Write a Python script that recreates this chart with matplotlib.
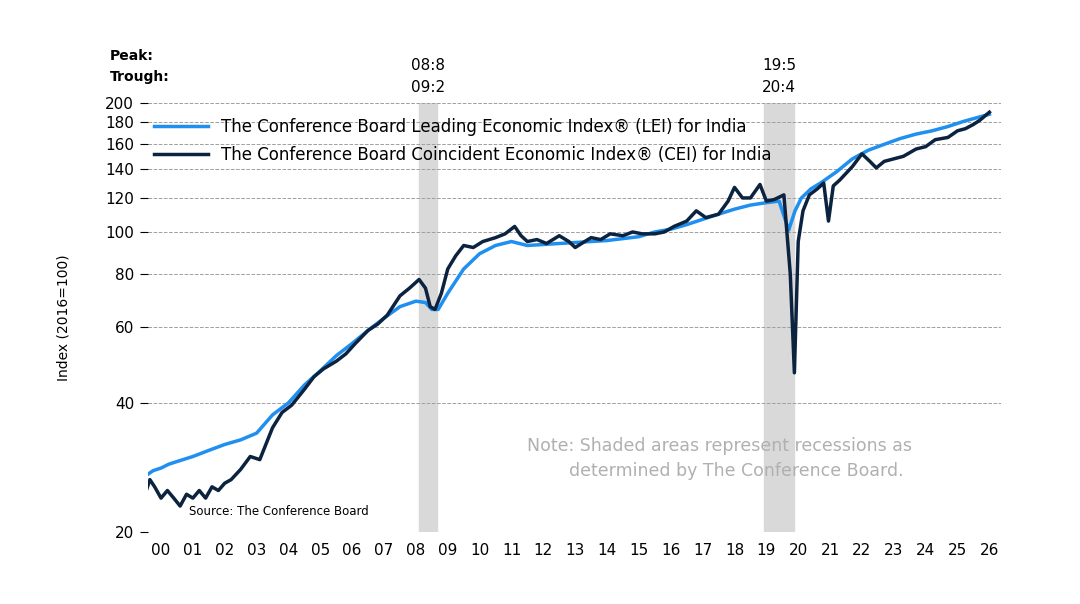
import numpy as np
import matplotlib.pyplot as plt
from matplotlib.ticker import FixedLocator, NullLocator

# LEI (time in fractional years, index 2016=100)
lei_t = [2000.0, 2000.25, 2000.5, 2000.75, 2001.0, 2001.5, 2002.0, 2002.5, 2003.0, 2003.5,
         2004.0, 2004.5, 2005.0, 2005.5, 2006.0, 2006.5, 2007.0, 2007.5, 2008.0, 2008.5,
         2008.8, 2009.0, 2009.2, 2009.5, 2010.0, 2010.5, 2011.0, 2011.5, 2012.0, 2012.5,
         2013.0, 2013.5, 2014.0, 2014.5, 2015.0, 2015.5, 2016.0, 2016.5, 2017.0, 2017.5,
         2018.0, 2018.5, 2019.0, 2019.5, 2019.9, 2020.2, 2020.4, 2020.6, 2020.9, 2021.2,
         2021.7, 2022.2, 2022.7, 2023.2, 2023.7, 2024.2, 2024.7, 2025.2, 2025.7, 2026.5]
lei_v = [27.0, 27.8, 28.2, 28.8, 29.2, 30.0, 31.0, 32.0, 32.8, 34.0,
         37.5, 40.0, 44.0, 47.5, 51.5, 55.0, 59.0, 63.0, 67.0, 69.0,
         68.5, 66.0, 66.0, 72.0, 82.0, 89.0, 93.0, 95.0, 93.0, 93.5,
         94.0, 94.5, 95.0, 95.5, 96.5, 97.5, 100.0, 101.5, 104.0, 107.0,
         110.0, 113.0, 115.5, 117.0, 118.0, 101.0, 112.0, 120.0, 126.0, 130.0,
         138.0, 148.0, 155.0, 160.0, 165.0, 169.0, 172.0, 176.0, 181.0, 188.0]

# CEI
cei_t = [2000.0, 2000.15, 2000.3, 2000.5, 2000.7, 2000.9, 2001.1, 2001.3, 2001.5, 2001.7,
         2001.9, 2002.1, 2002.3, 2002.5, 2002.7, 2003.0, 2003.3, 2003.6, 2004.0, 2004.3,
         2004.6, 2005.0, 2005.3, 2005.6, 2006.0, 2006.3, 2006.6, 2007.0, 2007.3, 2007.6,
         2008.0, 2008.3, 2008.6, 2008.8, 2008.95, 2009.1, 2009.3, 2009.5, 2009.75, 2010.0,
         2010.3, 2010.6, 2011.0, 2011.3, 2011.6, 2011.8, 2012.0, 2012.3, 2012.6, 2013.0,
         2013.3, 2013.5, 2013.8, 2014.0, 2014.3, 2014.6, 2015.0, 2015.3, 2015.6, 2016.0,
         2016.3, 2016.6, 2017.0, 2017.3, 2017.6, 2018.0, 2018.3, 2018.5, 2018.75, 2019.0,
         2019.3, 2019.5, 2019.75, 2020.05, 2020.25, 2020.38, 2020.5, 2020.65, 2020.85, 2021.1,
         2021.3, 2021.45, 2021.6, 2021.8, 2022.2, 2022.5, 2022.75, 2022.95, 2023.2, 2023.5,
         2023.8, 2024.2, 2024.5, 2024.8, 2025.2, 2025.5, 2025.75, 2026.0, 2026.2, 2026.5]
cei_v = [24.5, 26.5, 25.5, 24.0, 25.0, 24.0, 23.0, 24.5, 24.0, 25.0,
         24.0, 25.5, 25.0, 26.0, 26.5, 28.0, 30.0, 29.5, 35.0, 38.0,
         39.5, 43.0, 46.0, 48.0, 50.0, 52.0, 55.0, 59.0, 61.0, 64.0,
         71.0, 74.0, 77.5, 74.0, 67.0, 66.0, 72.0, 82.0, 88.0, 93.0,
         92.0, 95.0, 97.0, 99.0, 103.0, 98.0, 95.0, 96.0, 94.0, 98.0,
         95.0, 92.0, 95.0, 97.0, 96.0, 99.0, 98.0, 100.0, 99.0, 99.0,
         100.0, 103.0, 106.0, 112.0, 108.0, 110.0, 118.0, 127.0, 120.0, 120.0,
         129.0, 118.0, 119.0, 122.0, 80.0, 47.0, 95.0, 112.0, 122.0, 126.0,
         130.0, 106.0, 128.0, 132.0, 142.0, 152.0, 146.0, 141.0, 146.0, 148.0,
         150.0, 156.0, 158.0, 164.0, 166.0, 172.0, 174.0, 178.0, 182.0, 190.0]

recessions = [(2008.6, 2009.15), (2019.43, 2020.38)]
rec_labels = [("08:8", "09:2"), ("19:5", "20:4")]
yticks = [20, 40, 60, 80, 100, 120, 140, 160, 180, 200]
years = list(range(2000, 2027))

fig = plt.figure(figsize=(10.8, 6.04), dpi=100)
ax = fig.add_axes([0.137, 0.119, 0.79, 0.711])
ax.set_yscale('log')
ax.set_ylim(20, 200)
ax.set_xlim(2000.09, 2026.87)

for (a, b), (pk, tr) in zip(recessions, rec_labels):
    ax.axvspan(a, b, color='#d9d9d9', zorder=0)
    xm = (a + b) / 2
    ax.text(xm, 1.075, pk, transform=ax.get_xaxis_transform(), ha='center', fontsize=11)
    ax.text(xm, 1.025, tr, transform=ax.get_xaxis_transform(), ha='center', fontsize=11)

ax.text(-0.045, 1.1, 'Peak:', transform=ax.transAxes, fontsize=10, fontweight='bold')
ax.text(-0.045, 1.05, 'Trough:', transform=ax.transAxes, fontsize=10, fontweight='bold')

ax.yaxis.set_major_locator(FixedLocator(yticks))
ax.yaxis.set_minor_locator(NullLocator())
ax.set_yticklabels([str(v) for v in yticks], fontsize=11)
ax.grid(axis='y', color='#a0a0a0', linestyle='--', linewidth=0.7)
ax.set_xticks([y + 0.5 for y in years])
ax.set_xticklabels(['%02d' % (y % 100) for y in years], fontsize=11)
ax.tick_params(axis='x', length=0, pad=8)
ax.tick_params(axis='y', length=6, direction='out', pad=4)
for s in ['top', 'right', 'left', 'bottom']:
    ax.spines[s].set_visible(False)

ax.plot(lei_t, lei_v, color='#1f8ff0', linewidth=2.5, label='The Conference Board Leading Economic Index® (LEI) for India')
ax.plot(cei_t, cei_v, color='#0c2340', linewidth=2.5, label='The Conference Board Coincident Economic Index® (CEI) for India')
ax.legend(loc='upper left', bbox_to_anchor=(-0.01, 1.0), frameon=False, fontsize=12,
          handlelength=3.2, labelspacing=0.6)

ax.set_ylabel('Index (2016=100)', fontsize=10, labelpad=25)
ax.text(0.67, 0.13, 'Note: Shaded areas represent recessions as\n      determined by The Conference Board.',
        transform=ax.transAxes, ha='center', color='#b0b0b0', fontsize=12.5, linespacing=1.5)
ax.text(0.048, 0.04, 'Source: The Conference Board', transform=ax.transAxes, fontsize=8.5)

fig.savefig('out.png', dpi=100)
